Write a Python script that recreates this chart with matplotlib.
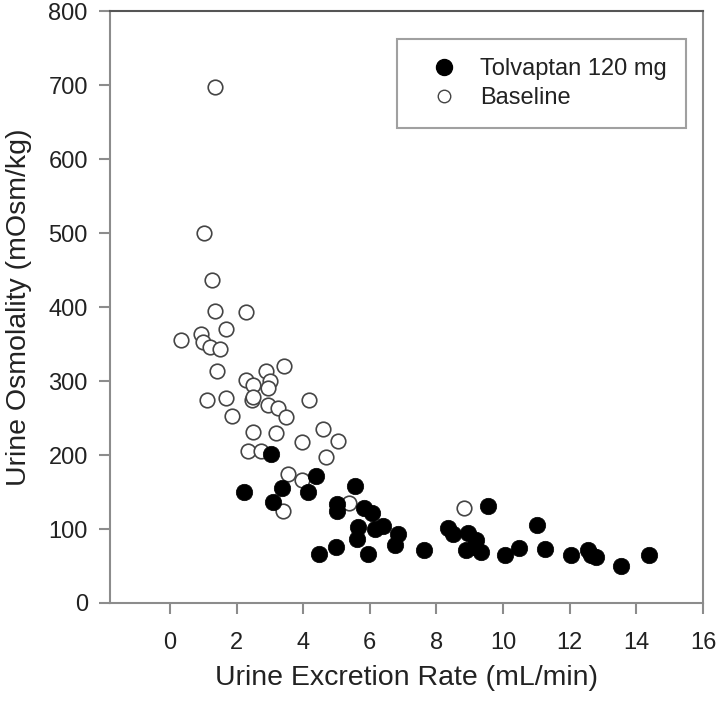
import matplotlib.pyplot as plt
from matplotlib.lines import Line2D

plt.rcParams['font.family'] = ['Liberation Sans', 'DejaVu Sans']

# Baseline (open circles)
base_x = [1.35, 1.02, 1.25, 1.35, 2.28, 1.67, 0.92, 0.32, 1.0, 1.2, 1.5, 1.42,
          2.88, 3.43, 2.28, 3.0, 2.5, 2.95, 1.1, 1.67, 2.45, 2.5, 4.17, 2.93,
          3.23, 3.47, 1.87, 2.5, 3.18, 4.58, 5.03, 3.97, 4.67, 2.35, 2.73,
          3.53, 3.97, 5.38, 3.4, 8.83]
base_y = [698, 500, 437, 395, 393, 370, 364, 355, 353, 346, 343, 313,
          313, 321, 301, 300, 295, 290, 275, 277, 274, 279, 275, 268,
          263, 252, 253, 231, 230, 235, 219, 217, 197, 206, 205,
          174, 166, 135, 125, 129]

# Tolvaptan 120 mg (filled circles)
tolv_x = [3.02, 2.23, 3.35, 4.37, 4.13, 3.1, 5.55, 5.02, 5.0, 5.83, 6.05, 5.63,
          6.15, 6.38, 5.6, 6.85, 6.75, 4.97, 4.47, 5.93, 7.63, 9.55, 8.35, 8.5,
          8.95, 9.2, 8.9, 9.15, 9.35, 10.05, 10.48, 11.02, 11.25, 12.03, 12.55,
          12.65, 12.8, 13.55, 14.38]
tolv_y = [201, 150, 155, 171, 150, 137, 158, 134, 124, 128, 122, 103,
          100, 104, 86, 93, 78, 76, 66, 66, 72, 131, 101, 93,
          95, 85, 72, 76, 69, 65, 74, 105, 73, 65, 72,
          65, 62, 50, 65]

fig = plt.figure(figsize=(7.2, 7.04), dpi=100)
ax = fig.add_axes([0.1528, 0.1435, 0.8236, 0.8405])

ax.scatter(base_x, base_y, s=110, facecolor='white', edgecolor='#444444',
           linewidth=1.2, zorder=2)
ax.scatter(tolv_x, tolv_y, s=140, facecolor='black', edgecolor='black',
           linewidth=0.5, zorder=3)

ax.set_xlim(-1.8, 16)
ax.set_ylim(0, 800)
ax.set_xticks(range(0, 17, 2))
ax.set_yticks(range(0, 801, 100))

for side in ['left', 'bottom', 'right']:
    ax.spines[side].set_color('#8c8c8c')
    ax.spines[side].set_linewidth(1.5)
ax.spines['top'].set_color('#555555')
ax.spines['top'].set_linewidth(1.5)

ax.tick_params(axis='both', direction='out', length=8, width=1.5,
               color='#8c8c8c', labelsize=17, labelcolor='#222222')
ax.tick_params(axis='y', pad=8)
ax.tick_params(axis='x', pad=13)

ax.set_xlabel('Urine Excretion Rate (mL/min)', fontsize=20.5, color='#222222',
              labelpad=8)
ax.set_ylabel('Urine Osmolality (mOsm/kg)', fontsize=20.5, color='#222222',
              labelpad=12)

handles = [
    Line2D([], [], marker='o', linestyle='none', markersize=11.5,
           markerfacecolor='black', markeredgecolor='black'),
    Line2D([], [], marker='o', linestyle='none', markersize=9,
           markerfacecolor='white', markeredgecolor='#444444',
           markeredgewidth=1.0),
]
leg = ax.legend(handles, ['Tolvaptan 120 mg', 'Baseline'],
                loc='upper right', bbox_to_anchor=(0.9713, 0.9527),
                fontsize=17, frameon=True, fancybox=False,
                borderpad=0.8, handlelength=2.4, handletextpad=0.35,
                labelspacing=0.3, borderaxespad=0)
leg.get_frame().set_edgecolor('#888888')
leg.get_frame().set_linewidth(1.5)
for t in leg.get_texts():
    t.set_color('#222222')

fig.savefig('out.png', dpi=100)
